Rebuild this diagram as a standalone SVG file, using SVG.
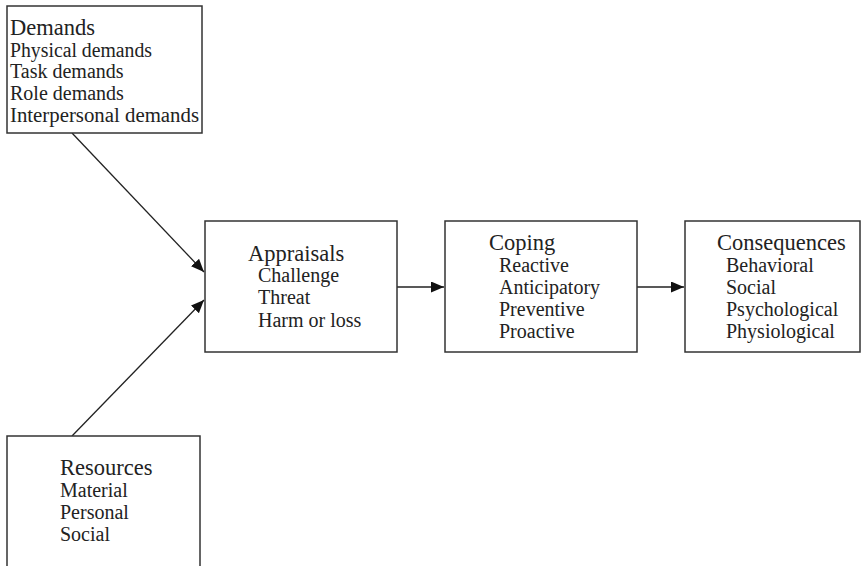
<svg xmlns="http://www.w3.org/2000/svg" width="862" height="566" viewBox="0 0 862 566">
  <style>
    .box { fill: #ffffff; stroke: #333333; stroke-width: 1.5; }
    .wire { fill: none; stroke: #222222; stroke-width: 1.3; }
    .lbl { font-family: 'Liberation Serif', Tinos, 'Times New Roman', 'DejaVu Serif', serif; fill: #222222; }
    .title { font-size: 22.5px; }
    .item { font-size: 20px; }
  </style>
  <defs>
    <marker id="arrow" markerUnits="userSpaceOnUse" markerWidth="14" markerHeight="12" refX="13" refY="5.5" orient="auto">
      <path d="M0,0 L13,5.5 L0,11 Z" fill="#111111"/>
    </marker>
  </defs>

  <rect x="0" y="0" width="862" height="566" fill="#ffffff"/>

  <!-- connectors -->
  <g id="connectors">
    <line class="wire" x1="72" y1="133" x2="204" y2="272" marker-end="url(#arrow)"/>
    <line class="wire" x1="72" y1="436" x2="204" y2="300" marker-end="url(#arrow)"/>
    <line class="wire" x1="397" y1="287" x2="444" y2="287" marker-end="url(#arrow)"/>
    <line class="wire" x1="637" y1="287" x2="684" y2="287" marker-end="url(#arrow)"/>
  </g>

  <!-- demands -->
  <g id="demands" class="lbl" font-family="Liberation Serif, serif">
    <rect class="box" x="7" y="6" width="195" height="127"/>
    <text class="title" x="10" y="35">Demands</text>
    <text class="item" x="10" y="57" textLength="142" lengthAdjust="spacingAndGlyphs">Physical demands</text>
    <text class="item" x="10" y="78">Task demands</text>
    <text class="item" x="10" y="100">Role demands</text>
    <text class="item" x="10" y="122" textLength="189" lengthAdjust="spacingAndGlyphs">Interpersonal demands</text>
  </g>

  <!-- resources -->
  <g id="resources" class="lbl">
    <rect class="box" x="7" y="436" width="193" height="140"/>
    <text class="title" x="60" y="475">Resources</text>
    <text class="item" x="60" y="497">Material</text>
    <text class="item" x="60" y="519">Personal</text>
    <text class="item" x="60" y="541">Social</text>
  </g>

  <!-- appraisals -->
  <g id="appraisals" class="lbl">
    <rect class="box" x="205" y="221" width="192" height="131"/>
    <text class="title" x="248" y="261">Appraisals</text>
    <text class="item" x="258" y="282">Challenge</text>
    <text class="item" x="258" y="304">Threat</text>
    <text class="item" x="258" y="327">Harm or loss</text>
  </g>

  <!-- coping -->
  <g id="coping" class="lbl">
    <rect class="box" x="445" y="221" width="192" height="131"/>
    <text class="title" x="489" y="250">Coping</text>
    <text class="item" x="499" y="272">Reactive</text>
    <text class="item" x="499" y="294">Anticipatory</text>
    <text class="item" x="499" y="316">Preventive</text>
    <text class="item" x="499" y="338">Proactive</text>
  </g>

  <!-- consequences -->
  <g id="consequences" class="lbl">
    <rect class="box" x="685" y="221" width="175" height="131"/>
    <text class="title" x="717" y="250">Consequences</text>
    <text class="item" x="726" y="272">Behavioral</text>
    <text class="item" x="726" y="294">Social</text>
    <text class="item" x="726" y="316">Psychological</text>
    <text class="item" x="726" y="338">Physiological</text>
  </g>
</svg>
